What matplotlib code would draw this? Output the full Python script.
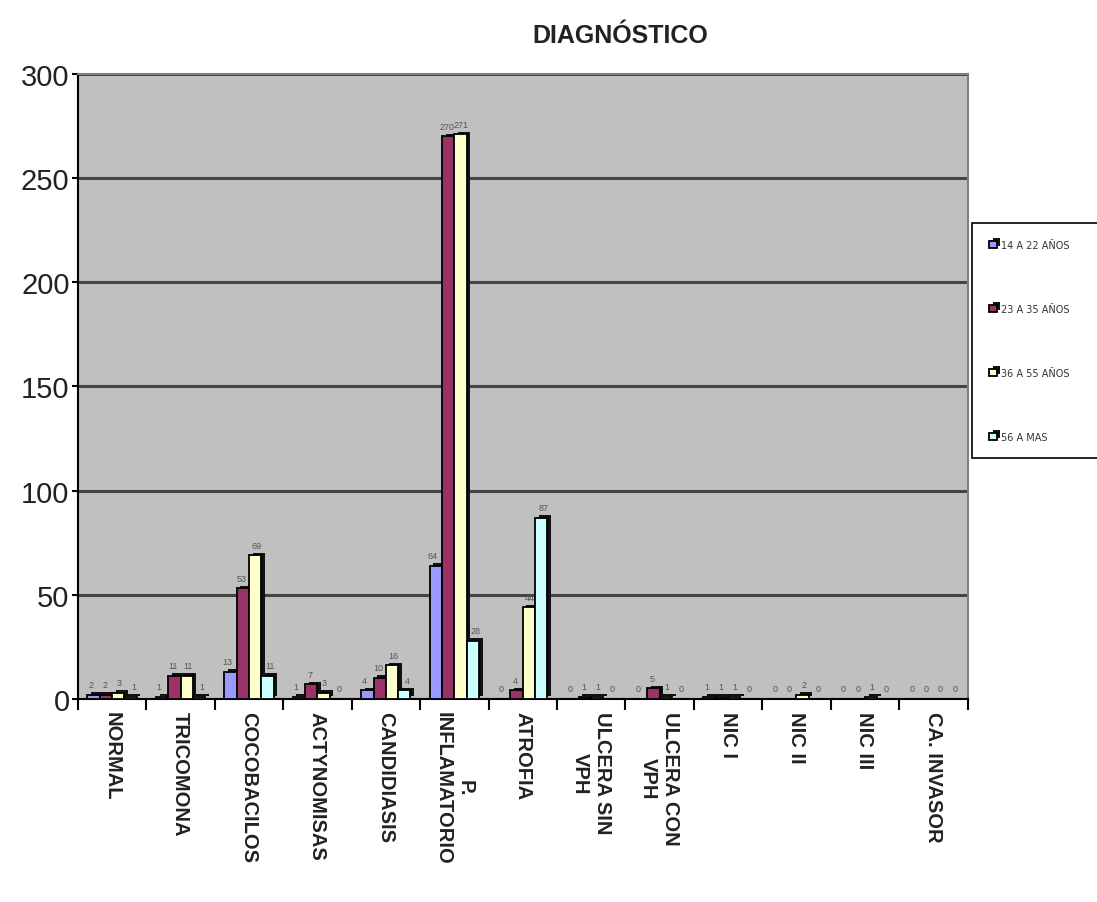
import matplotlib
matplotlib.use("Agg")
import matplotlib.pyplot as plt
import matplotlib.patheffects as pe
import numpy as np

categories = ["NORMAL", "TRICOMONA", "COCOBACILOS", "ACTYNOMISAS", "CANDIDIASIS",
              "P.\nINFLAMATORIO", "ATROFIA", "ULCERA SIN\nVPH", "ULCERA CON\nVPH",
              "NIC I", "NIC II", "NIC III", "CA. INVASOR"]
age_groups = ["14 A 22 AÑOS", "23 A 35 AÑOS", "36 A 55 AÑOS", "56 A MAS"]
g14_22 = [2, 1, 13, 1, 4, 64, 0, 0, 0, 1, 0, 0, 0]
g23_35 = [2, 11, 53, 7, 10, 270, 4, 1, 5, 1, 0, 0, 0]
g36_55 = [3, 11, 69, 3, 16, 271, 44, 1, 1, 1, 2, 1, 0]
g56_up = [1, 1, 11, 0, 4, 28, 87, 0, 0, 0, 0, 0, 0]
series = [g14_22, g23_35, g36_55, g56_up]
colors = ["#9999FF", "#993366", "#FFFFCC", "#CCFFFF"]

narrow = ["Liberation Sans Narrow", "Liberation Sans", "DejaVu Sans"]

fig = plt.figure(figsize=(10.97, 9.03), dpi=100)
ax = fig.add_axes([0.071, 0.225, 0.811, 0.692])
ax.set_facecolor("#C0C0C0")

x = np.arange(len(categories))
width = 0.18
shadow = [pe.SimplePatchShadow(offset=(2.6, 1.8), shadow_rgbFace="#111111", alpha=1.0),
          pe.Normal()]
for i, (vals, col, lab) in enumerate(zip(series, colors, age_groups)):
    pos = x + (i - 1.5) * width
    bars = ax.bar(pos, vals, width, color=col, edgecolor="black", linewidth=1.3,
                  label=lab, zorder=3)
    for b in bars:
        b.set_path_effects(shadow)
    # small value labels above each bar, nudged apart so neighbours don't collide
    for p, v in zip(pos, vals):
        ax.annotate(str(v), (p, v), xytext=((i - 1.5) * 1.4, 4),
                    textcoords="offset points", ha="center", va="bottom",
                    fontsize=6.5, family=narrow, color="#555555", zorder=4)

ax.set_xlim(-0.5, len(categories) - 0.5)
ax.set_ylim(0, 300)
ax.set_yticks(range(0, 301, 50))
ax.yaxis.grid(True, color="#454545", linewidth=2.2)
ax.set_axisbelow(True)

ax.set_xticks(x)
ax.set_xticklabels(categories, rotation=270, fontsize=14.5, fontweight="bold",
                   family=["Liberation Sans", "DejaVu Sans"],
                   multialignment="center", va="top", color="#222222")
ax.set_xticks(np.arange(-0.5, len(categories)), minor=True)
ax.tick_params(axis="x", which="major", length=0, pad=9)
ax.tick_params(axis="x", which="minor", length=8, width=1.5, direction="out")
ax.tick_params(axis="y", length=4, width=1.5, direction="out", pad=2,
               labelsize=21, labelcolor="#222222")
for t in ax.get_yticklabels():
    t.set_family(narrow)

for side in ("top", "right"):
    ax.spines[side].set_color("#808080")
    ax.spines[side].set_linewidth(1.5)
for side in ("left", "bottom"):
    ax.spines[side].set_color("black")
    ax.spines[side].set_linewidth(1.5)

fig.text(0.565, 0.96, "DIAGNÓSTICO", ha="center", va="center", fontsize=18,
         fontweight="bold", family=narrow, color="#222222")

leg = fig.legend(loc="upper left", bbox_to_anchor=(0.882, 0.757, 0.15, 0.0),
                 mode="expand", fontsize=7, labelspacing=5.55, borderpad=1.7,
                 handlelength=0.8, handleheight=0.8, handletextpad=0.4,
                 fancybox=False, edgecolor="black", framealpha=1)
leg.get_frame().set_linewidth(1.2)
for t in leg.get_texts():
    t.set_color("#333333")

fig.savefig("out.png", dpi=100)
